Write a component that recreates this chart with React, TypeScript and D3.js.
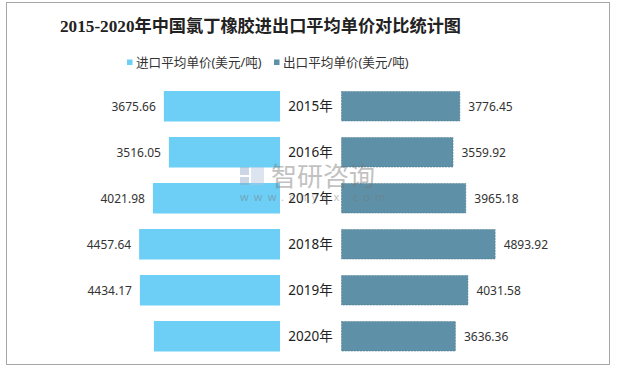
import * as d3 from "d3";
import { useRef, useEffect } from "react";

const years = ["2015年", "2016年", "2017年", "2018年", "2019年", "2020年"];
// import price, 2020 has no label in the source so its value is estimated from bar length
const importPrice = [3675.66, 3516.05, 4021.98, 4457.64, 4434.17, 3990];
const importLabel = ["3675.66", "3516.05", "4021.98", "4457.64", "4434.17", ""];
const exportPrice = [3776.45, 3559.92, 3965.18, 4893.92, 4031.58, 3636.36];
const seriesNames = ["进口平均单价(美元/吨)", "出口平均单价(美元/吨)"];
const seriesColors = ["#6dcff6", "#5e91a8"];

const W = 618;
const H = 369;

export default function App() {
  const ref = useRef<SVGSVGElement | null>(null);

  useEffect(() => {
    const svg = d3.select(ref.current);
    svg.selectAll("*").remove();

    const sans = "'Noto Sans', 'Noto Sans CJK SC', sans-serif";

    // outer border
    svg.append("rect")
      .attr("x", 6.5).attr("y", 2.5)
      .attr("width", 603).attr("height", 362)
      .attr("fill", "#fff")
      .attr("stroke", "#a6a6a6");

    svg.append("text")
      .attr("x", 60).attr("y", 32)
      .attr("font-family", "'Liberation Serif', 'Noto Sans CJK SC', serif")
      .attr("font-weight", "bold")
      .attr("font-size", 17.2)
      .attr("fill", "#222")
      .text("2015-2020年中国氯丁橡胶进出口平均单价对比统计图");

    // legend
    const legendX = [127, 274];
    seriesNames.forEach((name, i) => {
      svg.append("rect")
        .attr("x", legendX[i]).attr("y", 59.5)
        .attr("width", 5.5).attr("height", 5.5)
        .attr("fill", seriesColors[i]);
      svg.append("text")
        .attr("x", legendX[i] + 9).attr("y", 66.5)
        .attr("font-family", sans)
        .attr("font-size", 12.6)
        .attr("fill", "#333")
        .text(name);
    });

    const y = d3.scaleBand<string>()
      .domain(years)
      .range([68, 374.5])
      .paddingInner(0.337)
      .paddingOuter(0.5);

    const x = d3.scaleLinear().domain([0, 5000]).range([0, 158]);
    const leftEdge = 280;
    const rightEdge = 341;
    const mid = (leftEdge + rightEdge) / 2;

    const rows = svg.append("g");

    years.forEach((yr, i) => {
      const y0 = y(yr)!;
      const bh = y.bandwidth();
      const cy = y0 + bh / 2;

      rows.append("rect")
        .attr("x", leftEdge - x(importPrice[i]))
        .attr("y", y0)
        .attr("width", x(importPrice[i]))
        .attr("height", bh)
        .attr("fill", seriesColors[0]);

      rows.append("rect")
        .attr("x", rightEdge + 0.5)
        .attr("y", y0 + 0.5)
        .attr("width", x(exportPrice[i]) - 1)
        .attr("height", bh - 1)
        .attr("fill", seriesColors[1])
        .attr("stroke", "#4c7a90")
        .attr("stroke-width", 0.6)
        .attr("stroke-dasharray", "2,1");

      if (importLabel[i]) {
        rows.append("text")
          .attr("x", leftEdge - x(importPrice[i]) - 8)
          .attr("y", cy + 4.5)
          .attr("text-anchor", "end")
          .attr("font-family", sans)
          .attr("font-size", 12)
          .attr("fill", "#333")
          .text(importLabel[i]);
      }

      rows.append("text")
        .attr("x", rightEdge + x(exportPrice[i]) + 8)
        .attr("y", cy + 4.5)
        .attr("font-family", sans)
        .attr("font-size", 12)
        .attr("fill", "#333")
        .text(exportPrice[i].toFixed(2));

      rows.append("text")
        .attr("x", mid)
        .attr("y", cy + 5)
        .attr("text-anchor", "middle")
        .attr("font-family", sans)
        .attr("font-size", 13.5)
        .attr("fill", "#222")
        .text(yr);
    });

    // watermark
    const wm = svg.append("g").attr("opacity", 0.45);
    wm.append("rect").attr("x", 240).attr("y", 167).attr("width", 9).attr("height", 8).attr("fill", "#8fa6c4");
    wm.append("rect").attr("x", 240).attr("y", 177).attr("width", 9).attr("height", 8).attr("fill", "#8fa6c4");
    wm.append("rect").attr("x", 251).attr("y", 167).attr("width", 13).attr("height", 18).attr("fill", "#b0c4dc");
    wm.append("text")
      .attr("x", 271).attr("y", 186)
      .attr("font-family", sans)
      .attr("font-size", 26)
      .attr("fill", "#777")
      .text("智研咨询");
    wm.append("text")
      .attr("x", 240).attr("y", 201)
      .attr("font-family", sans)
      .attr("font-size", 11)
      .attr("letter-spacing", 5.2)
      .attr("fill", "#777")
      .text("www.chyxx.com");
  }, []);

  return (
    <svg
      ref={ref}
      width={W}
      height={H}
      style={{ position: "absolute", left: 0, top: 0, background: "#fff" }}
    />
  );
}
